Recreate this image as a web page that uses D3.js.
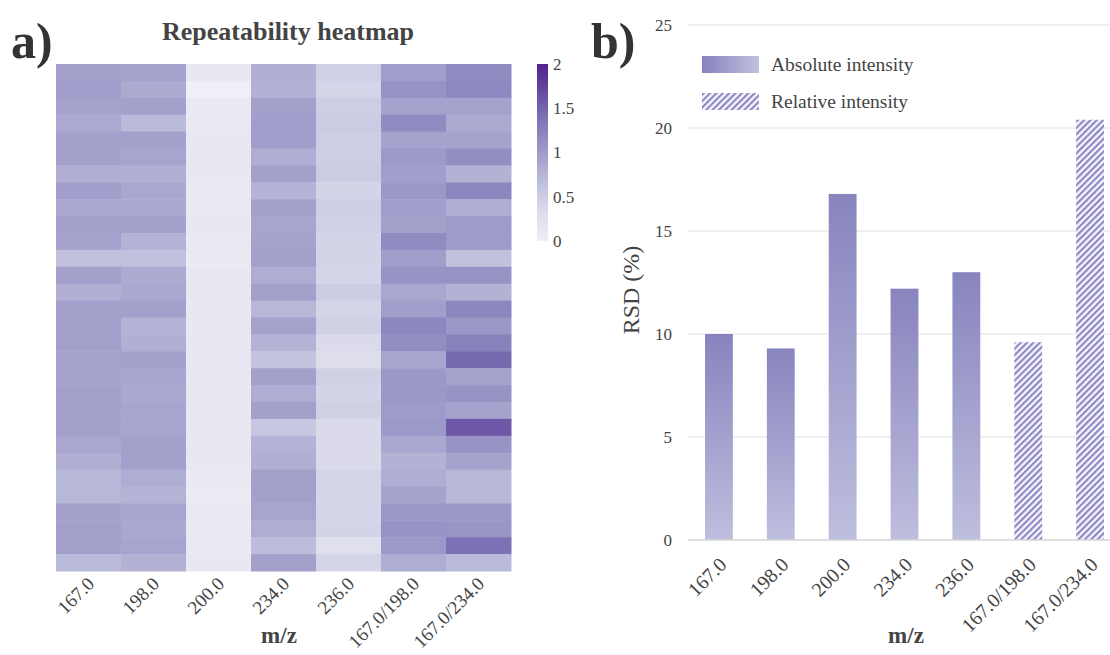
<!DOCTYPE html>
<html><head><meta charset="utf-8">
<script src="https://cdn.jsdelivr.net/npm/d3@7"></script>
<style>body{margin:0;background:#fff} svg, svg text{font-family:"Liberation Serif","Times New Roman",serif !important}</style>
</head><body><svg id="c" width="1110" height="655"></svg>
<script>
const categories = ["167.0","198.0","200.0","234.0","236.0","167.0/198.0","167.0/234.0"];
const heatRows = [
 [0.95,0.93,0.12,0.80,0.47,0.97,1.15],
 [0.97,0.85,0.00,0.78,0.40,1.08,1.18],
 [0.93,0.95,0.10,0.95,0.50,0.93,0.93],
 [0.86,0.70,0.10,0.97,0.52,1.15,0.85],
 [0.95,0.95,0.12,0.97,0.50,0.93,0.93],
 [0.95,0.90,0.13,0.83,0.50,1.02,1.12],
 [0.80,0.80,0.12,0.95,0.52,0.97,0.78],
 [0.97,0.88,0.10,0.76,0.42,1.03,1.20],
 [0.87,0.87,0.10,0.95,0.48,0.97,0.83],
 [0.95,0.95,0.12,0.90,0.46,0.95,1.00],
 [0.93,0.77,0.10,0.93,0.42,1.15,1.00],
 [0.63,0.63,0.08,0.95,0.42,0.97,0.63],
 [0.95,0.85,0.12,0.83,0.40,1.08,1.08],
 [0.80,0.87,0.12,0.95,0.51,0.88,0.78],
 [0.95,0.95,0.13,0.73,0.40,0.97,1.20],
 [0.95,0.77,0.12,0.93,0.45,1.20,1.03],
 [0.95,0.80,0.12,0.77,0.33,1.13,1.25],
 [0.93,0.95,0.12,0.60,0.30,0.90,1.45],
 [0.93,0.90,0.12,0.95,0.45,1.03,0.93],
 [0.95,0.87,0.12,0.83,0.42,1.03,1.08],
 [0.95,0.90,0.12,0.95,0.45,1.00,0.93],
 [0.95,0.90,0.12,0.57,0.33,1.02,1.60],
 [0.88,0.95,0.12,0.77,0.33,0.88,1.08],
 [0.80,0.95,0.12,0.80,0.33,0.78,0.93],
 [0.73,0.83,0.09,0.95,0.40,0.83,0.73],
 [0.73,0.77,0.07,0.95,0.40,0.93,0.73],
 [0.95,0.90,0.10,0.90,0.40,1.03,1.03],
 [0.95,0.88,0.10,0.83,0.42,1.08,1.05],
 [0.95,0.90,0.10,0.68,0.27,1.02,1.40],
 [0.70,0.78,0.14,0.95,0.40,0.83,0.70]
];
const colorbarTicks = [0,0.5,1,1.5,2];
const absCategories = ["167.0","198.0","200.0","234.0","236.0"];
const rsdAbsolute = [10.0, 9.3, 16.8, 12.2, 13.0];
const relCategories = ["167.0/198.0","167.0/234.0"];
const rsdRelative = [9.6, 20.4];
const rsdTicks = [0,5,10,15,20,25];

const svg = d3.select("#c");
const defs = svg.append("defs");

// ---------- Panel a: heatmap ----------
const color = d3.scaleSequential(t => d3.interpolatePurples(0.11 + 0.78*t)).domain([0,2]);
const hx = d3.scaleBand().domain(categories).range([56,511]);
const hy = d3.scaleBand().domain(d3.range(heatRows.length)).range([64,571]);

const cells = [];
heatRows.forEach((row,i) => row.forEach((v,j) => cells.push({i, c:categories[j], v})));
svg.append("g").selectAll("rect").data(cells).join("rect")
  .attr("x", d => hx(d.c)).attr("y", d => hy(d.i))
  .attr("width", hx.bandwidth()+0.5).attr("height", hy.bandwidth()+0.5)
  .attr("fill", d => color(d.v));

const hAxis = svg.append("g").attr("transform","translate(0,571)")
  .call(d3.axisBottom(hx).tickSize(0).tickPadding(0));
hAxis.select(".domain").remove();
hAxis.selectAll("text")
  .attr("font-size",19).attr("fill","#444")
  .attr("text-anchor","end").attr("dy",0)
  .attr("transform","translate(7,14) rotate(-45)");

svg.append("text").attr("x",279).attr("y",643).attr("text-anchor","middle")
  .attr("font-weight","bold").attr("font-size",23).attr("fill","#444").text("m/z");
svg.append("text").attr("x",288).attr("y",40).attr("text-anchor","middle")
  .attr("font-weight","bold").attr("font-size",26).attr("fill","#444").text("Repeatability heatmap");
svg.append("text").attr("x",11).attr("y",58)
  .attr("font-weight","bold").attr("font-size",50).attr("fill","#333").text("a)");

// colorbar
const cby = d3.scaleLinear().domain([0,2]).range([241,64]);
const cg = defs.append("linearGradient").attr("id","cbar").attr("x1",0).attr("y1",1).attr("x2",0).attr("y2",0);
d3.range(0,1.0001,0.05).forEach(t => cg.append("stop").attr("offset",t).attr("stop-color",color(2*t)));
svg.append("rect").attr("x",537).attr("y",64).attr("width",11).attr("height",177).attr("fill","url(#cbar)");
const cAxis = svg.append("g").attr("transform","translate(548,0)")
  .call(d3.axisRight(cby).tickValues(colorbarTicks).tickSize(0).tickPadding(5).tickFormat(d3.format("")));
cAxis.select(".domain").remove();
cAxis.selectAll("text").attr("font-size",17).attr("fill","#444");

// ---------- Panel b: bars ----------
const bx = d3.scaleBand().domain(categories).range([688,1121]).paddingInner(0.55).paddingOuter(0.275);
const by = d3.scaleLinear().domain([0,25]).range([540,25]);

const bg = defs.append("linearGradient").attr("id","barGrad").attr("x1",0).attr("y1",0).attr("x2",0).attr("y2",1);
bg.append("stop").attr("offset",0).attr("stop-color","#8884be");
bg.append("stop").attr("offset",1).attr("stop-color","#bebede");
const lg = defs.append("linearGradient").attr("id","legGrad").attr("x1",0).attr("y1",0).attr("x2",1).attr("y2",0);
lg.append("stop").attr("offset",0).attr("stop-color","#8782bd");
lg.append("stop").attr("offset",1).attr("stop-color","#c0c0df");
const pat = defs.append("pattern").attr("id","hatch").attr("patternUnits","userSpaceOnUse")
  .attr("width",4.5).attr("height",4.5).attr("patternTransform","rotate(45)");
pat.append("rect").attr("width",4.5).attr("height",4.5).attr("fill","#f4f3fa");
pat.append("line").attr("x1",1).attr("y1",0).attr("x2",1).attr("y2",4.5)
  .attr("stroke","#8a85c3").attr("stroke-width",2.1);

// grid
svg.append("g").selectAll("line").data(rsdTicks.filter(t=>t>0)).join("line")
  .attr("x1",688).attr("x2",1121).attr("y1",d=>by(d)).attr("y2",d=>by(d))
  .attr("stroke","#e2e2e2").attr("stroke-width",1.2);

svg.append("g").selectAll("rect").data(absCategories.map((c,i)=>({c,v:rsdAbsolute[i]}))).join("rect")
  .attr("x",d=>bx(d.c)).attr("y",d=>by(d.v)).attr("width",bx.bandwidth())
  .attr("height",d=>by(0)-by(d.v)).attr("fill","url(#barGrad)");
svg.append("g").selectAll("rect").data(relCategories.map((c,i)=>({c,v:rsdRelative[i]}))).join("rect")
  .attr("x",d=>bx(d.c)).attr("y",d=>by(d.v)).attr("width",bx.bandwidth())
  .attr("height",d=>by(0)-by(d.v)).attr("fill","url(#hatch)");

svg.append("line").attr("x1",688).attr("x2",1121).attr("y1",by(0)).attr("y2",by(0))
  .attr("stroke","#d4d4d4").attr("stroke-width",1.3);

const yAxis = svg.append("g").attr("transform","translate(672,0)")
  .call(d3.axisLeft(by).tickValues(rsdTicks).tickSize(0).tickPadding(0));
yAxis.select(".domain").remove();
yAxis.selectAll("text").attr("font-size",17).attr("fill","#444");

const xAxis = svg.append("g").attr("transform","translate(0,540)")
  .call(d3.axisBottom(bx).tickSize(0).tickPadding(0));
xAxis.select(".domain").remove();
xAxis.selectAll("text")
  .attr("font-size",20).attr("fill","#444")
  .attr("text-anchor","end").attr("dy",0)
  .attr("transform","translate(9,26) rotate(-45)");

svg.append("text").attr("transform","translate(639,290) rotate(-90)").attr("text-anchor","middle")
  .attr("font-size",24).attr("fill","#444").text("RSD (%)");
svg.append("text").attr("x",906).attr("y",643).attr("text-anchor","middle")
  .attr("font-weight","bold").attr("font-size",23).attr("fill","#444").text("m/z");
svg.append("text").attr("x",591).attr("y",58)
  .attr("font-weight","bold").attr("font-size",50).attr("fill","#333").text("b)");

// legend
const legend = [{label:"Absolute intensity", fill:"url(#legGrad)", y:56},{label:"Relative intensity", fill:"url(#hatch)", y:93}];
const lgG = svg.append("g").selectAll("g").data(legend).join("g");
lgG.append("rect").attr("x",702).attr("y",d=>d.y).attr("width",57).attr("height",17).attr("fill",d=>d.fill);
lgG.append("text").attr("x",771).attr("y",d=>d.y+15).attr("font-size",19.5).attr("fill","#444").text(d=>d.label);
</script></body></html>
